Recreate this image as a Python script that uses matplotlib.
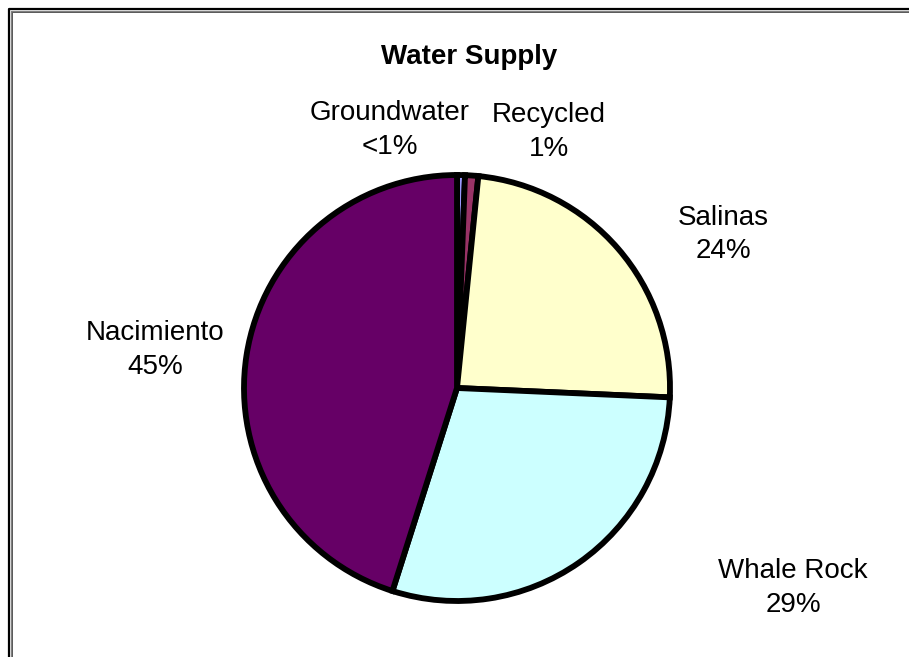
"""Water supply pie chart."""

import matplotlib

matplotlib.use("Agg")
import matplotlib.pyplot as plt
from matplotlib.lines import Line2D

W, H = 909, 657

sources = ["Groundwater", "Recycled", "Salinas", "Whale Rock", "Nacimiento"]
shares = [0.6, 1.0, 24.1, 29.2, 45.1]
share_labels = ["<1%", "1%", "24%", "29%", "45%"]
colors = ["#9999FF", "#993366", "#FFFFCC", "#CCFFFF", "#660066"]

# label centres in pixels (x, y from top), Excel-style placement
label_pos = [(390, 130), (549, 132), (723, 235), (793, 588), (155, 350)]

plt.rcParams["font.family"] = ["Liberation Sans", "DejaVu Sans"]

fig = plt.figure(figsize=(W / 100, H / 100), dpi=100)

cx, cy, r = 457, 388, 213
ax = fig.add_axes([(cx - r) / W, (H - cy - r) / H, 2 * r / W, 2 * r / H])
ax.pie(
    shares,
    colors=colors,
    startangle=90,
    counterclock=False,
    wedgeprops=dict(edgecolor="black", linewidth=4.2),
)
ax.set_xlim(-1, 1)
ax.set_ylim(-1, 1)
ax.set_aspect("equal")
ax.axis("off")

for name, pct, (x, y) in zip(sources, share_labels, label_pos):
    fig.text(x / W, 1 - y / H, f"{name}\n{pct}", ha="center", va="center",
             fontsize=20, linespacing=1.35)

fig.text(469 / W, 1 - 57 / H, "Water Supply", ha="center", va="center",
         fontsize=20, fontweight="bold")

# chart area frame: open to the right and bottom
for off, col, lw in [(9, "black", 1.6), (10.8, "#808080", 0.9), (11.8, "#404040", 0.6)]:
    fig.add_artist(Line2D([off / W, off / W, 1], [0, 1 - off / H, 1 - off / H],
                          color=col, linewidth=lw, transform=fig.transFigure))

fig.savefig("out.png", dpi=100)
